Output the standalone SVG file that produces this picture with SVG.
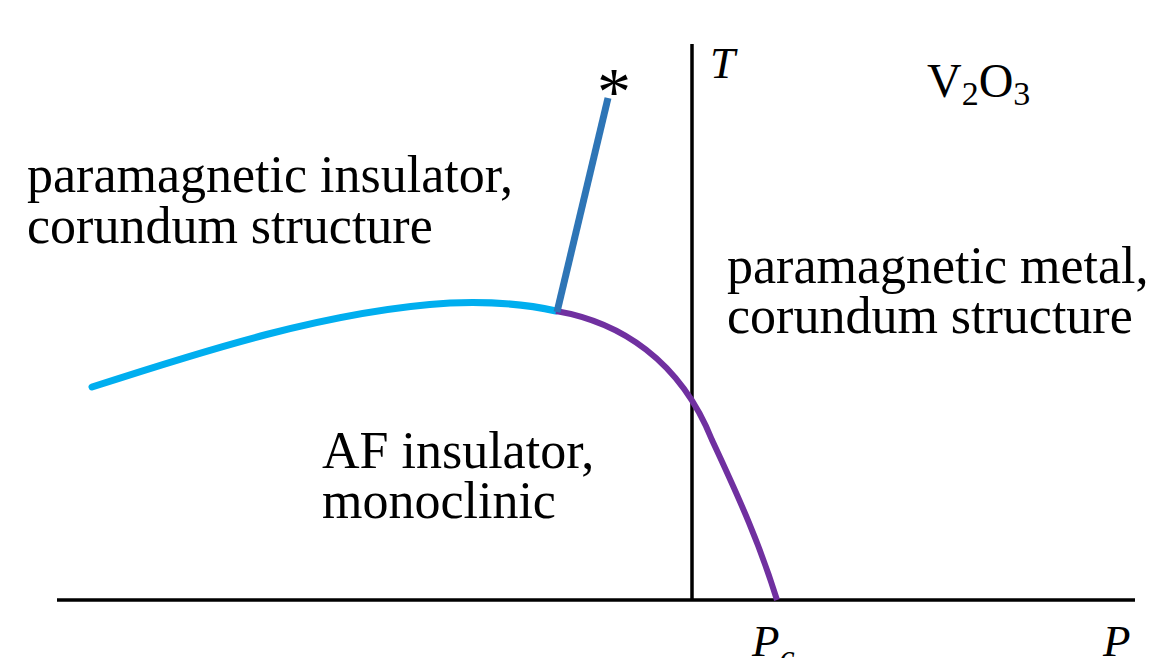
<svg xmlns="http://www.w3.org/2000/svg" width="1165" height="658" viewBox="0 0 1165 658">
<style>
.lbl{font-family:"Liberation Serif","Times New Roman",serif;font-size:52px;fill:#000}
.it{font-family:"Liberation Serif","Times New Roman",serif;font-style:italic;font-size:45px;fill:#000}
.ax{stroke:#000;stroke-width:3.5;fill:none}
</style>
<rect width="1165" height="658" fill="#fff"/>
<g id="axes">
<line class="ax" x1="57" y1="600" x2="1135" y2="600"/>
<line class="ax" x1="692" y1="44" x2="692" y2="600"/>
</g>
<g id="connectors">
<path d="M92,387 C200,352 330,310 450,303 C500,301 530,305 556,311" fill="none" stroke="#00AEEF" stroke-width="7" stroke-linecap="round"/>
<path d="M556,311 C620,322 680,360 712,440 C740,500 760,545 777,600" fill="none" stroke="#7030A0" stroke-width="6"/>
<line x1="557" y1="312" x2="608" y2="98" stroke="#2E75B6" stroke-width="7"/>
</g>
<g id="critical-point"><text x="614" y="114" class="lbl" text-anchor="middle" style="font-size:68px">*</text></g>
<g id="label-pi">
<text class="lbl" x="27" y="192">paramagnetic insulator,</text>
<text class="lbl" x="27" y="243">corundum structure</text>
</g>
<g id="label-pm">
<text class="lbl" x="727" y="283">paramagnetic metal,</text>
<text class="lbl" x="727" y="333">corundum structure</text>
</g>
<g id="label-af">
<text class="lbl" x="322" y="468">AF insulator,</text>
<text class="lbl" x="322" y="518">monoclinic</text>
</g>
<g id="label-T"><text class="it" x="710" y="78">T</text></g>
<g id="label-V2O3"><text class="lbl" x="927" y="97" style="font-size:48px">V<tspan dy="8" font-size="34">2</tspan><tspan dy="-8">O</tspan><tspan dy="8" font-size="34">3</tspan></text></g>
<g id="label-Pc"><text class="it" x="752" y="656">P<tspan dy="12" font-size="34">c</tspan></text></g>
<g id="label-P"><text class="it" x="1103" y="656">P</text></g>
</svg>
